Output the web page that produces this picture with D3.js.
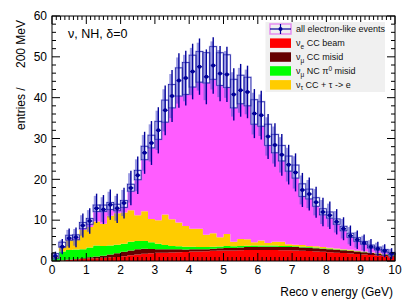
<!DOCTYPE html>
<html>
<head>
<meta charset="utf-8">
<script src="https://cdn.jsdelivr.net/npm/d3@7"></script>
<style>
  body { margin: 0; background: #fff; }
  text { font-family: "Liberation Sans", Arial, sans-serif; }
</style>
</head>
<body>
<script>
// reco energy bins, 0.2 GeV wide, 0..10 GeV
const binWidth = 0.2;
const binStart = d3.range(50).map(i => +(i * binWidth).toFixed(1));

// stacked backgrounds + signal (entries per bin)
const nueBeam = [0.05,0.15,0.25,0.35,0.5,0.6,0.7,0.8,0.9,1.0,1.15,1.4,1.6,1.75,1.9,2.0,2.05,2.1,2.15,2.2,2.3,2.35,2.4,2.5,2.55,2.6,2.6,2.65,2.7,2.7,2.7,2.7,2.7,2.65,2.65,2.6,2.5,2.45,2.35,2.25,2.15,2.05,1.95,1.85,1.7,1.6,1.45,1.35,1.2,1.05];
const numuMisid = [0,0.05,0.1,0.15,0.2,0.3,0.4,0.5,0.7,0.9,1.1,1.2,1.25,1.25,1.05,0.85,0.8,0.75,0.7,0.6,0.55,0.5,0.5,0.5,0.55,0.6,0.6,0.65,0.7,0.75,0.8,0.8,0.8,0.8,0.8,0.8,0.8,0.8,0.8,0.75,0.75,0.7,0.7,0.65,0.6,0.55,0.5,0.45,0.4,0.35];
const ncPi0 = [0.75,2.1,2.35,2.3,2.2,2.4,2.7,2.4,2.2,2.1,1.95,2.1,2.05,1.9,1.65,1.35,1.05,0.85,0.75,0.7,0.65,0.6,0.55,0.5,0.45,0.45,0.4,0.4,0.35,0.35,0.3,0.3,0.3,0.25,0.25,0.2,0.2,0.2,0.15,0.15,0.15,0.1,0.1,0.1,0.1,0.1,0.05,0.05,0.05,0.05];
const nutau = [0.4,1.2,2.5,2.5,4.7,5.0,5.9,5.4,7.3,7.7,7.7,7.7,6.3,7.3,5.7,5.8,7.5,6.5,5.8,5.1,4.4,4.45,2.95,3.3,2.25,2.95,1.1,1.7,1.55,0.8,1.2,0.6,0.9,1.0,0.4,0.4,0.4,0.25,0.3,0.25,0.2,0.2,0.15,0.15,0.1,0.1,0.1,0.1,0.05,0.05];
const signal = [0,0.1,0.2,0.3,0.4,0.8,2.4,3.0,1.6,1.0,1.4,4.7,8.7,12.6,17.4,19.8,22.6,27.3,31.0,32.2,34.7,35.9,37.2,37.7,37.2,35.9,32.8,33.1,32.7,28.9,28.0,23.9,21.8,19.8,17.9,16.3,11.9,11.5,9.8,7.9,7.25,5.95,4.5,3.05,2.3,1.75,1.1,0.75,0.5,0.1];

// all electron-like events (points) and systematic boxes
const events = [1.2,3.5,5.6,5.8,8.7,9.8,12.9,12.6,13.8,12.9,14.2,17.9,21.0,26.5,28.9,32.0,36.9,40.4,44.2,44.8,46.4,47.6,45.1,47.9,45.9,45.7,40.8,41.8,41.4,36.1,35.7,30.5,28.4,26.0,23.6,21.7,17.4,16.4,14.4,12.0,11.2,9.6,7.9,6.2,5.2,4.4,3.5,3.0,2.5,1.8];
const boxLo = [0.7,3.4,5.1,5.2,7.9,9.0,12.1,12.1,12.6,12.3,13.1,17.1,19.9,24.8,27.7,29.8,34.0,37.5,40.4,40.8,42.6,43.8,43.6,44.5,43.0,42.5,37.5,38.5,38.0,33.5,33.0,28.3,26.5,24.5,22.0,20.3,15.8,15.2,13.4,11.3,10.5,9.0,7.4,5.8,4.8,4.1,3.2,2.7,2.2,1.6];
const boxHi = [1.8,4.6,6.3,6.4,9.4,10.4,13.7,13.7,14.3,13.9,14.8,18.8,22.2,28.1,30.8,34.2,39.4,43.2,47.3,48.6,50.4,51.3,51.0,52.5,51.0,50.5,44.5,45.5,45.0,39.5,39.0,33.5,31.0,28.3,25.7,23.5,18.9,17.6,15.5,12.8,12.0,10.3,8.5,6.8,5.7,4.8,3.9,3.4,2.8,2.1];

const seriesKeys = ["nueBeam", "numuMisid", "ncPi0", "nutau", "signal"];
const seriesColors = ["#ff0000", "#660000", "#00ff00", "#ffcc00", "#ff5cff"];
const yTicks = [0, 10, 20, 30, 40, 50, 60];
const xTicks = [0, 1, 2, 3, 4, 5, 6, 7, 8, 9, 10];

const W = 415, H = 307;
const mLeft = 52, mRight = 395, mTop = 16, mBottom = 261;

const svg = d3.select("body").append("svg")
    .attr("width", W)
    .attr("height", H);

const x = d3.scaleLinear().domain([0, 10]).range([mLeft, mRight]);
const y = d3.scaleLinear().domain([0, 60]).range([mBottom, mTop]);

const rows = binStart.map((b, i) => ({
    x0: b, nueBeam: nueBeam[i], numuMisid: numuMisid[i], ncPi0: ncPi0[i],
    nutau: nutau[i], signal: signal[i]
}));
// extra point so the step reaches x=10
const rowsStep = rows.concat([Object.assign({}, rows[rows.length - 1], {x0: 10})]);

const stack = d3.stack().keys(seriesKeys)(rowsStep);

const area = d3.area()
    .curve(d3.curveStepAfter)
    .x(d => x(d.data.x0))
    .y0(d => y(d[0]))
    .y1(d => y(d[1]));

svg.append("g")
    .selectAll("path")
    .data(stack)
    .join("path")
    .attr("fill", (d, i) => seriesColors[i])
    .attr("d", area);

// systematic boxes
const boxes = svg.append("g");
binStart.forEach((b, i) => {
    const bx = x(b), bw = x(b + binWidth) - x(b);
    boxes.append("rect")
        .attr("x", bx).attr("y", y(boxHi[i]))
        .attr("width", bw).attr("height", y(boxLo[i]) - y(boxHi[i]))
        .attr("fill", "none")
        .attr("stroke", "#8a8ae0").attr("stroke-opacity", 0.45).attr("stroke-width", 2);
});
binStart.forEach((b, i) => {
    const bx = x(b), bw = x(b + binWidth) - x(b);
    boxes.append("rect")
        .attr("x", bx).attr("y", y(boxHi[i]))
        .attr("width", bw).attr("height", y(boxLo[i]) - y(boxHi[i]))
        .attr("fill", "none")
        .attr("stroke", "#1a1aa0").attr("stroke-width", 0.75);
});

// event points with error bars
const pts = svg.append("g");
binStart.forEach((b, i) => {
    const cx = x(b + binWidth / 2);
    const v = events[i], e = Math.sqrt(v);
    pts.append("line")
        .attr("x1", cx - 1.5).attr("x2", cx - 1.5)
        .attr("y1", y(v + 0.85 * e)).attr("y2", y(Math.max(0, v - 0.85 * e)))
        .attr("stroke", "#5a5ad0").attr("stroke-opacity", 0.6).attr("stroke-width", 2.6);
    pts.append("line")
        .attr("x1", cx).attr("x2", cx)
        .attr("y1", y(v + e)).attr("y2", y(Math.max(0, v - e)))
        .attr("stroke", "#000099").attr("stroke-width", 1.4);
    pts.append("line")
        .attr("x1", cx - 2.5).attr("x2", cx + 2.5)
        .attr("y1", y(v)).attr("y2", y(v))
        .attr("stroke", "#000099").attr("stroke-width", 1.4);
    pts.append("circle")
        .attr("cx", cx).attr("cy", y(v)).attr("r", 2)
        .attr("fill", "#000099");
});

// frame and ticks on all four sides, pointing inwards
svg.append("rect")
    .attr("x", mLeft).attr("y", mTop)
    .attr("width", mRight - mLeft).attr("height", mBottom - mTop)
    .attr("fill", "none").attr("stroke", "#000").attr("stroke-width", 1);

const tk = svg.append("g").attr("stroke", "#000").attr("stroke-width", 1);
d3.range(0, 60.01, 2).forEach(v => {
    const len = v % 10 === 0 ? 8 : 4;
    tk.append("line").attr("x1", mLeft).attr("x2", mLeft + len).attr("y1", y(v)).attr("y2", y(v));
    tk.append("line").attr("x1", mRight).attr("x2", mRight - len).attr("y1", y(v)).attr("y2", y(v));
});
d3.range(0, 10.001, 0.125).forEach(v => {
    const len = Math.abs(v - Math.round(v)) < 1e-6 ? 8 : 4;
    tk.append("line").attr("x1", x(v)).attr("x2", x(v)).attr("y1", mBottom).attr("y2", mBottom - len);
    tk.append("line").attr("x1", x(v)).attr("x2", x(v)).attr("y1", mTop).attr("y2", mTop + len);
});

svg.append("g").selectAll("text")
    .data(yTicks).join("text")
    .attr("x", mLeft - 5).attr("y", d => y(d) + 4.3)
    .attr("text-anchor", "end").attr("font-size", 12)
    .text(d => d);

svg.append("g").selectAll("text")
    .data(xTicks).join("text")
    .attr("x", d => x(d)).attr("y", 274)
    .attr("text-anchor", "middle").attr("font-size", 12)
    .text(d => d);

svg.append("text")
    .attr("x", mRight - 2).attr("y", 296)
    .attr("text-anchor", "end").attr("font-size", 12)
    .text("Reco \u03bd energy (GeV)");

svg.append("text")
    .attr("transform", "translate(24.5,130) rotate(-90)")
    .attr("font-size", 12)
    .text("entries /");
svg.append("text")
    .attr("transform", "translate(24.5,20) rotate(-90)")
    .attr("text-anchor", "end").attr("font-size", 12)
    .text("200 MeV");

svg.append("text")
    .attr("x", 68).attr("y", 37.5).attr("font-size", 12.5)
    .text("\u03bd, NH, \u03b4=0");

// legend
const lg = svg.append("g");
lg.append("rect")
    .attr("x", 265.5).attr("y", 22).attr("width", 119.5).attr("height", 70)
    .attr("fill", "#f0f0f0");

const legendRows = [
    {label: ["all electron-like events"]},
    {label: ["\u03bd", "e", " CC beam"], color: seriesColors[0]},
    {label: ["\u03bd", "\u03bc", " CC misid"], color: seriesColors[1]},
    {label: ["\u03bd", "\u03bc", " NC \u03c0", "0", " misid"], color: seriesColors[2]},
    {label: ["\u03bd", "\u03c4", " CC + \u03c4 -> e"], color: seriesColors[3]}
];
const ly0 = 29, lstep = 13.9, sx = 270, sw = 21;
legendRows.forEach((r, i) => {
    const cy = ly0 + i * lstep;
    if (i === 0) {
        lg.append("rect").attr("x", sx).attr("y", cy - 5).attr("width", sw).attr("height", 10)
            .attr("fill", "none").attr("stroke", "#e58ef0").attr("stroke-width", 1.5);
        lg.append("line").attr("x1", sx).attr("x2", sx + sw).attr("y1", cy).attr("y2", cy)
            .attr("stroke", "#000099").attr("stroke-width", 1.2);
        lg.append("line").attr("x1", sx + sw / 2).attr("x2", sx + sw / 2).attr("y1", cy - 5).attr("y2", cy + 5)
            .attr("stroke", "#000099").attr("stroke-width", 1.2);
        lg.append("circle").attr("cx", sx + sw / 2).attr("cy", cy).attr("r", 2).attr("fill", "#000099");
    } else {
        lg.append("rect").attr("x", sx).attr("y", cy - 4.5).attr("width", sw).attr("height", 9.5)
            .attr("fill", r.color);
    }
    const t = lg.append("text").attr("x", 296).attr("y", cy + 3.3).attr("font-size", 9).attr("fill", "#111");
    if (r.label.length === 1) {
        t.text(r.label[0]);
    } else {
        t.append("tspan").text(r.label[0]);
        t.append("tspan").attr("font-size", 6.5).attr("dy", 2.5).text(r.label[1]);
        t.append("tspan").attr("dy", -2.5).text(r.label[2]);
        if (r.label.length > 3) {
            t.append("tspan").attr("font-size", 6.5).attr("dy", -3.5).text(r.label[3]);
            t.append("tspan").attr("dy", 3.5).text(r.label[4]);
        }
    }
});
</script>
</body>
</html>
